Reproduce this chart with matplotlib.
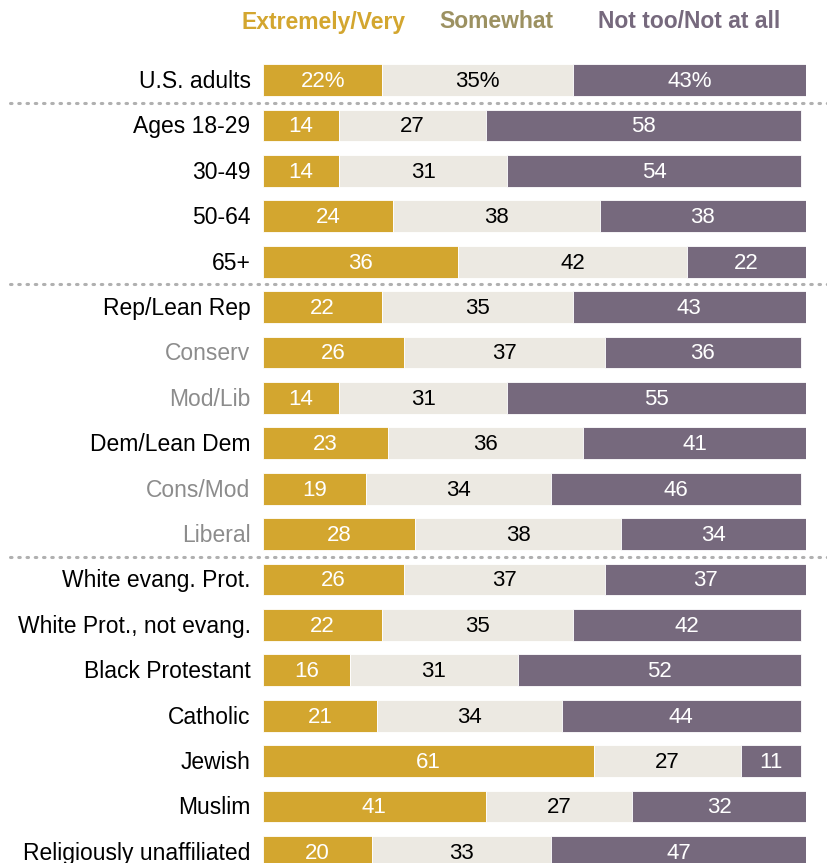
import matplotlib
matplotlib.use("Agg")
import matplotlib.pyplot as plt
from matplotlib import font_manager

# ---------------------------------------------------------------------------
# data
# ---------------------------------------------------------------------------
GROUPS = [
    "U.S. adults",
    "Ages 18-29", "30-49", "50-64", "65+",
    "Rep/Lean Rep", "Conserv", "Mod/Lib",
    "Dem/Lean Dem", "Cons/Mod", "Liberal",
    "White evang. Prot.", "White Prot., not evang.", "Black Protestant",
    "Catholic", "Jewish", "Muslim", "Religiously unaffiliated",
]
EXTREMELY_VERY = [22, 14, 14, 24, 36, 22, 26, 14, 23, 19, 28, 26, 22, 16, 21, 61, 41, 20]
SOMEWHAT = [35, 27, 31, 38, 42, 35, 37, 31, 36, 34, 38, 37, 35, 31, 34, 27, 27, 33]
NOT_TOO = [43, 58, 54, 38, 22, 43, 36, 55, 41, 46, 34, 37, 42, 52, 44, 11, 32, 47]
SUBGROUPS = {"Conserv", "Mod/Lib", "Cons/Mod", "Liberal"}
SEPARATOR_AFTER = [0, 4, 10]
SERIES_NAMES = ["Extremely/Very", "Somewhat", "Not too/Not at all"]

# ---------------------------------------------------------------------------
# style
# ---------------------------------------------------------------------------
GOLD = "#D3A62F"
LIGHT = "#ECE9E2"
PURPLE = "#76697D"
SOMEWHAT_HEAD = "#9C9161"
SUB_GRAY = "#8C8C8C"

installed = {f.name for f in font_manager.fontManager.ttflist}
NARROW = "Liberation Sans Narrow" if "Liberation Sans Narrow" in installed else "Liberation Sans"
plt.rcParams["font.family"] = [NARROW, "DejaVu Sans"]
BODY_FONT = ["Liberation Sans", "DejaVu Sans"]

W, H = 827, 863
fig = plt.figure(figsize=(W / 100, H / 100), dpi=100)

n = len(GROUPS)
row_px = (852 - 80) / (n - 1)
top_px = 80 - row_px / 2
bot_px = 852 + row_px / 2
ax = fig.add_axes([263 / W, 1 - bot_px / H, 543 / W, (bot_px - top_px) / H])
ax.set_xlim(0, 100)
ax.set_ylim(n - 0.5, -0.5)
ax.axis("off")

rows = list(range(n))
bar_h = 0.70
segments = [
    (EXTREMELY_VERY, GOLD, "white"),
    (SOMEWHAT, LIGHT, "black"),
    (NOT_TOO, PURPLE, "white"),
]
left = [0] * n
for values, color, txt_color in segments:
    ax.barh(rows, values, left=left, height=bar_h, color=color,
            edgecolor="white", linewidth=0.6)
    for i, v in enumerate(values):
        label = f"{v}%" if i == 0 else f"{v}"
        ax.text(left[i] + v / 2, i + 0.03, label, ha="center", va="center",
                color=txt_color, fontsize=16, family=BODY_FONT)
    left = [l + v for l, v in zip(left, values)]

# row labels
for i, g in enumerate(GROUPS):
    ax.text(-2.3, i + 0.03, g, ha="right", va="center", fontsize=16.5,
            color=SUB_GRAY if g in SUBGROUPS else "black", family=BODY_FONT)

# dotted separators
for r in SEPARATOR_AFTER:
    ax.plot([(10 - 263) / 543 * 100, (827 - 263) / 543 * 100], [r + 0.5, r + 0.5],
            color="#B0B0B0", linewidth=2.2, linestyle=(0, (0.5, 2.2)),
            dash_capstyle="round", clip_on=False)

# header legend
header_y = 1 - 22 / H
for name, x_px, color in zip(SERIES_NAMES, [324, 496, 689], [GOLD, SOMEWHAT_HEAD, PURPLE]):
    fig.text(x_px / W, header_y, name, ha="center", va="center", fontsize=16.5,
             fontweight="bold", color=color)

fig.savefig("out.png", dpi=100)
